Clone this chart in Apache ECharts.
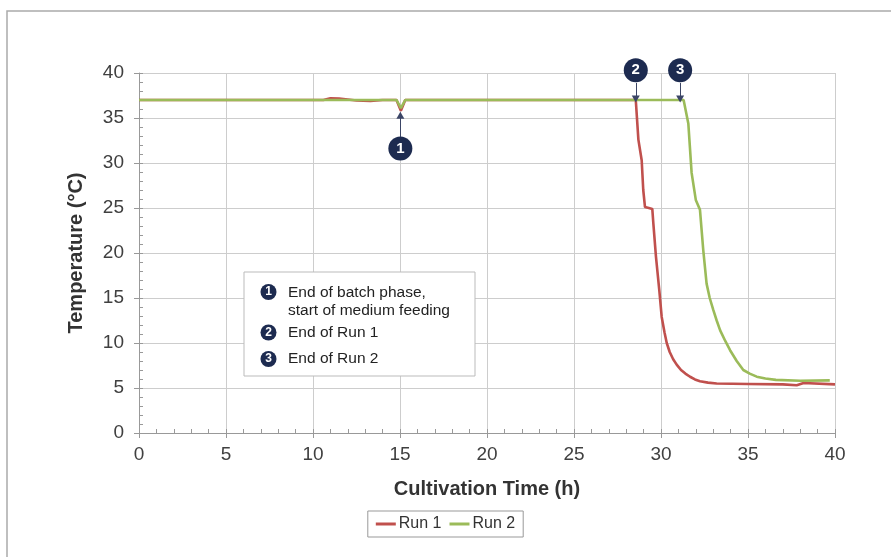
<!DOCTYPE html>
<html>
<head>
<meta charset="utf-8">
<script src="https://cdn.jsdelivr.net/npm/echarts@6/dist/echarts.min.js"></script>
<style>
  html, body { margin: 0; padding: 0; background: #fff; }
  #chart { width: 891px; height: 557px; }
</style>
</head>
<body>
<div id="chart"></div>
<script>
// Run 1 (red) - time (h) and temperature (°C)
const run1Time = [0, 10.6, 11.0, 11.5, 12.0, 12.5, 13.3, 14.0, 14.8, 15.05, 15.3, 16, 20, 25, 28.55, 28.7, 28.89, 28.98, 29.08, 29.3, 29.5, 29.56, 29.71, 29.9, 30.04, 30.2, 30.33, 30.5, 30.7, 30.9, 31.15, 31.4, 31.67, 31.95, 32.24, 32.7, 33.2, 35, 37.0, 37.8, 38.2, 40]
const run1Temp = [37.0, 37.0, 37.2, 37.15, 37.05, 36.95, 36.9, 37.0, 37.0, 35.8, 37.0, 37.0, 37.0, 37.0, 37.0, 32.6, 30.3, 27.0, 25.1, 25.0, 24.9, 23.3, 19.6, 15.9, 12.9, 11.2, 10.0, 9.0, 8.2, 7.6, 7.0, 6.6, 6.25, 5.95, 5.75, 5.6, 5.5, 5.45, 5.4, 5.3, 5.55, 5.4]

// Run 2 (green)
const run2Time = [0, 14.8, 15.05, 15.3, 20, 25, 31.3, 31.57, 31.76, 32.0, 32.24, 32.43, 32.62, 32.8, 33.0, 33.2, 33.4, 33.7, 33.97, 34.35, 34.73, 35.1, 35.5, 36.0, 36.6, 38.0, 39.7]
const run2Temp = [37.0, 37.0, 36.1, 37.0, 37.0, 37.0, 37.0, 34.4, 28.9, 25.9, 24.8, 20.3, 16.6, 15.0, 13.7, 12.5, 11.4, 10.2, 9.2, 8.0, 7.0, 6.6, 6.26, 6.05, 5.9, 5.8, 5.85]

// numbered event markers: time, y of circle, arrow start, arrow tip
const eventNames = ['1', '2', '3']
const eventTime = [15.02, 28.55, 31.1]
const eventCircleY = [31.6, 40.3, 40.3]
const eventArrowFrom = [32.9, 38.9, 38.9]
const eventArrowTo = [35.3, 37.1, 37.1]

const noteTexts = ['End of batch phase,\nstart of medium feeding', 'End of Run 1', 'End of Run 2']

const navy = '#1d2b50'
const pairs = (xs, ys) => xs.map((x, i) => [x, ys[i]])

const chart = echarts.init(document.getElementById('chart'))

const font = 'Liberation Sans, Arial, sans-serif'

const option = {
  animation: false,
  backgroundColor: '#fff',
  textStyle: { fontFamily: font },
  grid: { left: 139, right: 56, top: 73, bottom: 124 },
  legend: {
    data: ['Run 1', 'Run 2'],
    top: 511,
    left: 'center',
    icon: 'rect',
    borderColor: '#999',
    borderWidth: 1,
    borderRadius: 0,
    padding: [5, 8],
    itemGap: 8,
    itemWidth: 20,
    itemHeight: 3,
    textStyle: { fontSize: 16, color: '#333', fontFamily: font, padding: [0, 0, 0, -2] }
  },
  xAxis: [
    {
      type: 'value', min: 0, max: 40, interval: 5, position: 'bottom',
      name: 'Cultivation Time (h)', nameLocation: 'middle', nameGap: 46,
      nameTextStyle: { fontSize: 20, fontWeight: 'bold', color: '#333', fontFamily: font },
      axisLine: { lineStyle: { color: '#999' } },
      axisTick: { length: 5, lineStyle: { color: '#999' } },
      axisLabel: { fontSize: 19, color: '#404040', margin: 12, fontFamily: font },
      splitLine: { lineStyle: { color: '#cdcdcd' } }
    },
    {
      type: 'value', min: 0, max: 40, interval: 1, position: 'bottom',
      axisLine: { show: false },
      axisTick: { inside: true, length: 4, lineStyle: { color: '#999' } },
      axisLabel: { show: false },
      splitLine: { show: false }
    }
  ],
  yAxis: [
    {
      type: 'value', min: 0, max: 40, interval: 5, position: 'left',
      name: 'Temperature (°C)', nameLocation: 'middle', nameGap: 53,
      nameTextStyle: { fontSize: 20, fontWeight: 'bold', color: '#333', fontFamily: font },
      axisLine: { show: true, lineStyle: { color: '#999' } },
      axisTick: { show: true, length: 5, lineStyle: { color: '#999' } },
      axisLabel: { fontSize: 19, color: '#404040', margin: 15, fontFamily: font },
      splitLine: { lineStyle: { color: '#cdcdcd' } }
    },
    {
      type: 'value', min: 0, max: 40, interval: 1, position: 'left',
      axisLine: { show: false },
      axisTick: { show: true, inside: true, length: 4, lineStyle: { color: '#999' } },
      axisLabel: { show: false },
      splitLine: { show: false }
    }
  ],
  series: [
    {
      name: 'Run 1',
      type: 'line',
      clip: false,
      symbol: 'none',
      data: pairs(run1Time, run1Temp),
      lineStyle: { color: '#c0504d', width: 2.6 },
      itemStyle: { color: '#c0504d' },
      z: 3
    },
    {
      name: 'Run 2',
      type: 'line',
      clip: false,
      symbol: 'none',
      data: pairs(run2Time, run2Temp),
      lineStyle: { color: '#9bbb59', width: 2.6 },
      itemStyle: { color: '#9bbb59' },
      z: 4,
      markLine: {
        silent: true,
        symbol: ['none', 'triangle'],
        symbolSize: [8, 7],
        label: { show: false },
        lineStyle: { color: '#3b4566', width: 1, type: 'solid' },
        data: eventNames.map((n, i) => [
          { coord: [eventTime[i], eventArrowFrom[i]] },
          { coord: [eventTime[i], eventArrowTo[i]] }
        ])
      }
    },
    {
      name: 'events',
      type: 'scatter',
      clip: false,
      silent: true,
      symbol: 'circle',
      symbolSize: 24,
      itemStyle: { color: navy, opacity: 1 },
      label: { show: true, position: 'inside', color: '#fff', fontWeight: 'bold', fontSize: 15, fontFamily: font, formatter: p => p.name },
      data: eventNames.map((n, i) => ({ name: n, value: [eventTime[i], eventCircleY[i]] })),
      z: 6
    }
  ],
  graphic: [
    // outer frame
    { type: 'polyline', shape: { points: [[7, 557], [7, 11], [891, 11]] }, style: { stroke: '#aaa', lineWidth: 1.5, fill: null }, silent: true },
    // note box
    { type: 'rect', shape: { x: 244, y: 272, width: 231, height: 104 }, style: { fill: '#fff', stroke: '#bbb', lineWidth: 1 }, z: 10, silent: true },
    { type: 'circle', shape: { cx: 268.5, cy: 292, r: 8 }, style: { fill: navy }, z: 11, silent: true },
    { type: 'text', style: { text: eventNames[0], x: 268.5, y: 292, fill: '#fff', font: 'bold 12px ' + font, align: 'center', verticalAlign: 'middle' }, z: 12, silent: true },
    { type: 'circle', shape: { cx: 268.5, cy: 332.5, r: 8 }, style: { fill: navy }, z: 11, silent: true },
    { type: 'text', style: { text: eventNames[1], x: 268.5, y: 332.5, fill: '#fff', font: 'bold 12px ' + font, align: 'center', verticalAlign: 'middle' }, z: 12, silent: true },
    { type: 'circle', shape: { cx: 268.5, cy: 359, r: 8 }, style: { fill: navy }, z: 11, silent: true },
    { type: 'text', style: { text: eventNames[2], x: 268.5, y: 359, fill: '#fff', font: 'bold 12px ' + font, align: 'center', verticalAlign: 'middle' }, z: 12, silent: true },
    { type: 'text', style: { text: noteTexts[0], x: 288, y: 283, fill: '#222', font: '15.5px ' + font, lineHeight: 18.5, verticalAlign: 'top' }, z: 12, silent: true },
    { type: 'text', style: { text: noteTexts[1], x: 288, y: 332.5, fill: '#222', font: '15.5px ' + font, verticalAlign: 'middle' }, z: 12, silent: true },
    { type: 'text', style: { text: noteTexts[2], x: 288, y: 359, fill: '#222', font: '15.5px ' + font, verticalAlign: 'middle' }, z: 12, silent: true }
  ]
}

chart.setOption(option)
</script>
</body>
</html>
